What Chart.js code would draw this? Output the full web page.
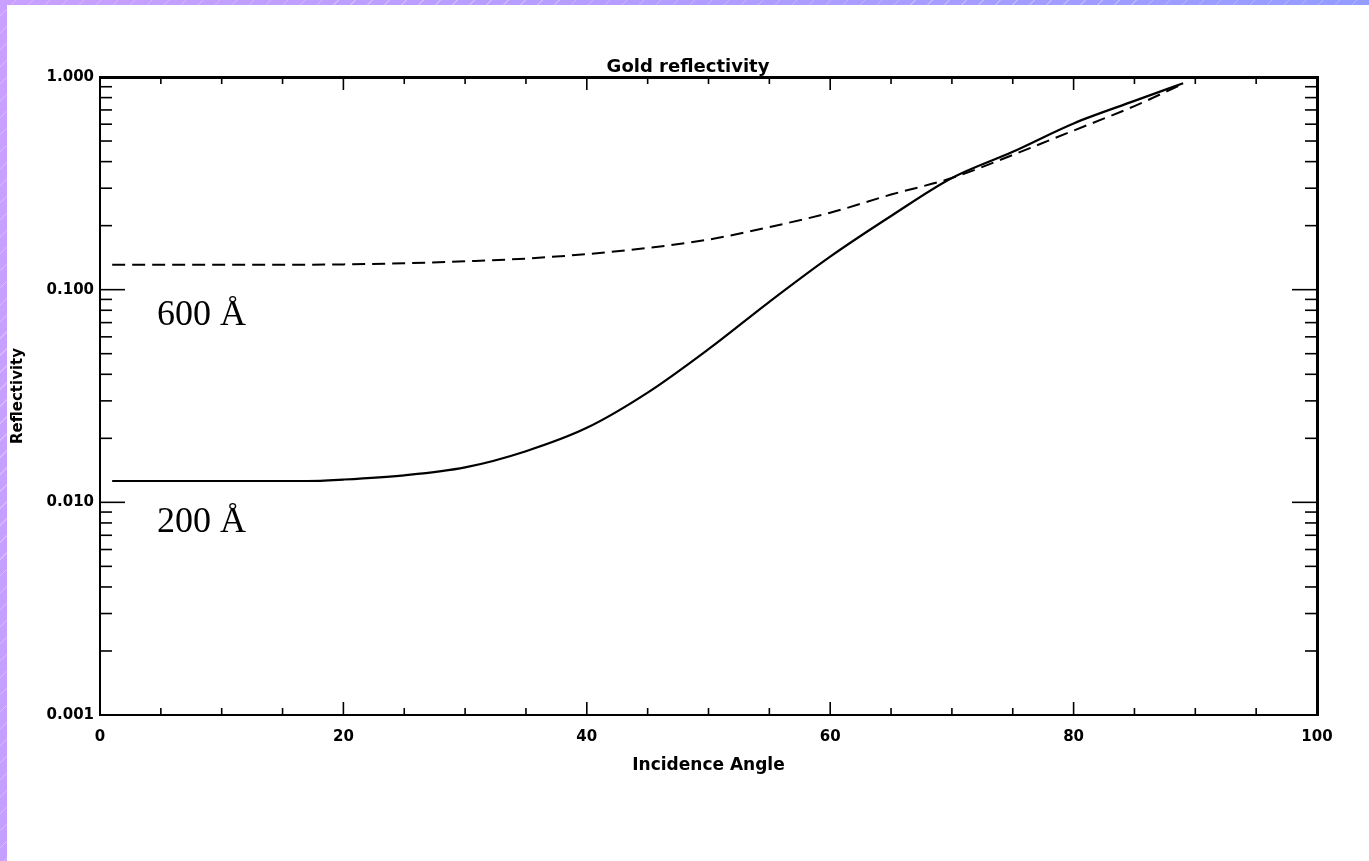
<!DOCTYPE html>
<html><head><meta charset="utf-8">
<script src="https://cdn.jsdelivr.net/npm/chart.js@4.4.0/dist/chart.umd.min.js"></script>
<style>
html,body{margin:0;padding:0;width:1369px;height:861px;overflow:hidden;}
body{background:linear-gradient(100deg,#c9a0ff 0%,#b29dff 45%,#8e9cff 100%);position:relative;}
#hatch{position:absolute;left:0;top:0;width:1369px;height:861px;background:repeating-linear-gradient(135deg,rgba(255,255,255,0) 0 11px,rgba(255,255,255,0.28) 11px 12px);}
#panel{position:absolute;left:7px;top:5px;width:1362px;height:856px;background:#fff;}
canvas{display:block;}
</style></head>
<body>
<div id="hatch"></div>
<div id="panel"><canvas id="c" width="1362" height="856"></canvas></div>
<script>
// ---- data ----
const angles   = [1, 10, 17, 20, 25, 30, 35, 40, 45, 50, 55, 60, 65, 70, 75, 80, 85, 89];
const refl200  = [0.0126, 0.0126, 0.0126, 0.0128, 0.0134, 0.0146, 0.0174, 0.0224, 0.0328, 0.0525, 0.0877, 0.143, 0.222, 0.335, 0.445, 0.605, 0.772, 0.935];
const refl600  = [0.131, 0.131, 0.131, 0.1315, 0.133, 0.136, 0.140, 0.147, 0.157, 0.172, 0.197, 0.230, 0.280, 0.335, 0.430, 0.560, 0.730, 0.930];
const xTickValues = [0, 20, 40, 60, 80, 100];
const yTickValues = [0.001, 0.01, 0.1, 1];
const seriesLabels = ['200 Å', '600 Å'];
const titleText = 'Gold reflectivity';
const xTitle = 'Incidence Angle';
const yTitle = 'Reflectivity';

const toXY = (xs, ys) => xs.map((v, i) => ({x: v, y: ys[i]}));
const FONT = 'DejaVu Sans';

const boxTicks = {
  id: 'boxTicks',
  afterDraw(chart) {
    const {ctx, chartArea: {left, right, top, bottom}, scales: {x, y}} = chart;
    ctx.save();
    ctx.strokeStyle = '#000';
    ctx.lineWidth = 1.6;
    const seg = (a, b, c, d) => { ctx.beginPath(); ctx.moveTo(a, b); ctx.lineTo(c, d); ctx.stroke(); };
    for (let v = 5; v < 100; v += 5) {
      const px = x.getPixelForValue(v);
      const len = (v % 20 === 0) ? 13 : 7;
      seg(px, bottom, px, bottom - len);
      seg(px, top, px, top + len);
    }
    for (let e = -3; e < 0; e++) {
      for (let m = 1; m <= 9; m++) {
        const v = m * Math.pow(10, e);
        if (m === 1 && e === -3) continue;
        const py = y.getPixelForValue(v);
        const len = (m === 1) ? 25 : 12;
        seg(left, py, left + len, py);
        seg(right, py, right - len, py);
      }
    }
    ctx.restore();
  }
};

const labelsPlugin = {
  id: 'seriesText',
  afterDatasetsDraw(chart) {
    const {ctx, scales: {x, y}} = chart;
    ctx.save();
    ctx.fillStyle = '#000';
    ctx.font = '36px "Liberation Serif"';
    ctx.textBaseline = 'alphabetic';
    ctx.textAlign = 'left';
    ctx.fillText(seriesLabels[1], x.getPixelForValue(4.68), y.getPixelForValue(0.0682));
    ctx.fillText(seriesLabels[0], x.getPixelForValue(4.68), y.getPixelForValue(0.00726));
    ctx.restore();
  }
};

const tickFont = {family: FONT, weight: 'bold', size: 15, lineHeight: 1};

new Chart(document.getElementById('c'), {
  type: 'line',
  data: {
    datasets: [
      {label: seriesLabels[0], data: toXY(angles, refl200), borderColor: '#000', borderWidth: 2.2, pointRadius: 0, cubicInterpolationMode: 'monotone', fill: false},
      {label: seriesLabels[1], data: toXY(angles, refl600), borderColor: '#000', borderWidth: 2, borderDash: [13, 7], pointRadius: 0, cubicInterpolationMode: 'monotone', fill: false}
    ]
  },
  options: {
    responsive: false,
    animation: false,
    layout: {padding: 0},
    plugins: {
      legend: {display: false},
      tooltip: {enabled: false},
      title: {display: true, text: titleText, color: '#000', font: {family: FONT, weight: 'bold', size: 18, lineHeight: 1}, padding: {top: 53.5, bottom: 0}}
    },
    scales: {
      x: {
        type: 'linear', position: 'bottom', min: 0, max: 100,
        afterBuildTicks: s => { s.ticks = xTickValues.map(v => ({value: v})); },
        ticks: {color: '#000', font: tickFont, padding: 15, maxRotation: 0, autoSkip: false, callback: v => String(v)},
        grid: {display: false, drawTicks: false},
        border: {display: true, color: '#000', width: 2},
        title: {display: true, text: xTitle, color: '#000', font: {family: FONT, weight: 'bold', size: 17, lineHeight: 1}, padding: {top: 0, bottom: 87}},
        afterFit: s => { s.height = 146; }
      },
      x2: {
        type: 'linear', position: 'top', min: 0, max: 100,
        ticks: {display: false}, grid: {display: false, drawTicks: false},
        border: {display: true, color: '#000', width: 3},
        afterFit: s => { s.height = 0.5; }
      },
      y: {
        type: 'logarithmic', position: 'left', min: 0.001, max: 1,
        afterBuildTicks: s => { s.ticks = yTickValues.map(v => ({value: v})); },
        ticks: {color: '#000', font: tickFont, padding: 6, autoSkip: false, callback: v => Number(v).toFixed(3)},
        grid: {display: false, drawTicks: false},
        border: {display: true, color: '#000', width: 2},
        title: {display: true, text: yTitle, color: '#000', font: {family: FONT, weight: 'bold', size: 15, lineHeight: 1}, padding: {top: 3.5, bottom: 0}},
        afterFit: s => { s.width = 93; }
      },
      y2: {
        type: 'logarithmic', position: 'right', min: 0.001, max: 1,
        ticks: {display: false}, grid: {display: false, drawTicks: false},
        border: {display: true, color: '#000', width: 3},
        afterFit: s => { s.width = 52; }
      }
    }
  },
  plugins: [boxTicks, labelsPlugin]
});
</script>
</body></html>
